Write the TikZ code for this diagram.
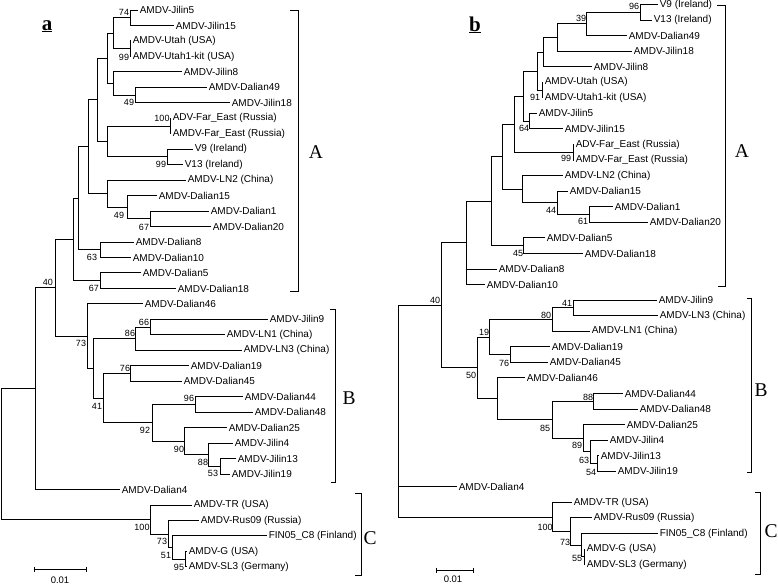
\documentclass[tikz,border=0pt]{standalone}
\usepackage{fontspec}
\setmainfont{Liberation Sans}
\newfontfamily\serifface{Liberation Serif}
\usetikzlibrary{calc}
\tikzset{
  edge/.style={line width=1pt, black},
  lab/.style={anchor=west, inner sep=1.6pt, font=\fontsize{10}{12}\selectfont},
  bsl/.style={inner sep=0pt, font=\fontsize{9}{10}\selectfont},
  clade/.style={inner sep=0pt, font=\serifface\fontsize{19.5}{20}\selectfont},
  ttl/.style={anchor=base, inner sep=0pt, font=\serifface\bfseries\fontsize{21}{22}\selectfont},
  brk/.style={line width=1pt},
  sclab/.style={inner sep=0pt, font=\fontsize{9.5}{11}\selectfont},
}
\newcommand\phynode[4]{%
  \path ($(#3)!0.5!(#4)$) coordinate (#1m);
  \path (#2,0) coordinate (#1x);
  \coordinate (#1) at (#1m -| #1x);
  \draw[edge] (#1) |- (#3);
  \draw[edge] (#1) |- (#4);}
\newcommand\tipa[4]{\coordinate (#1) at (#2,{10+(#3-1)*15.47}); \node[lab] (#1l) at (#1) {#4};}
\newcommand\tipb[4]{\coordinate (#1) at (#2,{4.5+(#3-1)*15.56}); \node[lab] (#1l) at (#1) {#4};}
\newcommand\bsv[4]{\node[bsl] (#1) at (#2,#3) {#4};}
\begin{document}
\begin{tikzpicture}[x=1pt,y=-1pt]
\useasboundingbox (0,0) rectangle (778,584);
% ================= Tree a =================
\node[ttl] (titlea) at (47,30) {\underline{a}};
\tipa{ta1}{138}{1}{AMDV-Jilin5}
\tipa{ta2}{174}{2}{AMDV-Jilin15}
\tipa{ta3}{131}{3}{AMDV-Utah (USA)}
\tipa{ta4}{131}{4}{AMDV-Utah1-kit (USA)}
\tipa{ta5}{182}{5}{AMDV-Jilin8}
\tipa{ta6}{207}{6}{AMDV-Dalian49}
\tipa{ta7}{230}{7}{AMDV-Jilin18}
\tipa{ta8}{171}{8}{ADV-Far\_East (Russia)}
\tipa{ta9}{171}{9}{AMDV-Far\_East (Russia)}
\tipa{ta10}{193}{10}{V9 (Ireland)}
\tipa{ta11}{183}{11}{V13 (Ireland)}
\tipa{ta12}{186}{12}{AMDV-LN2 (China)}
\tipa{ta13}{157}{13}{AMDV-Dalian15}
\tipa{ta14}{209}{14}{AMDV-Dalian1}
\tipa{ta15}{211}{15}{AMDV-Dalian20}
\tipa{ta16}{134}{16}{AMDV-Dalian8}
\tipa{ta17}{131}{17}{AMDV-Dalian10}
\tipa{ta18}{141}{18}{AMDV-Dalian5}
\tipa{ta19}{176}{19}{AMDV-Dalian18}
\tipa{ta20}{143}{20}{AMDV-Dalian46}
\tipa{ta21}{268}{21}{AMDV-Jilin9}
\tipa{ta22}{225}{22}{AMDV-LN1 (China)}
\tipa{ta23}{242}{23}{AMDV-LN3 (China)}
\tipa{ta24}{189}{24}{AMDV-Dalian19}
\tipa{ta25}{182}{25}{AMDV-Dalian45}
\tipa{ta26}{243}{26}{AMDV-Dalian44}
\tipa{ta27}{253}{27}{AMDV-Dalian48}
\tipa{ta28}{227}{28}{AMDV-Dalian25}
\tipa{ta29}{233}{29}{AMDV-Jilin4}
\tipa{ta30}{236}{30}{AMDV-Jilin13}
\tipa{ta31}{230}{31}{AMDV-Jilin19}
\tipa{ta32}{120}{32}{AMDV-Dalian4}
\tipa{ta33}{192}{33}{AMDV-TR (USA)}
\tipa{ta34}{199}{34}{AMDV-Rus09 (Russia)}
\tipa{ta35}{267}{35}{FIN05\_C8 (Finland)}
\tipa{ta36}{187}{36}{AMDV-G (USA)}
\tipa{ta37}{187}{37}{AMDV-SL3 (Germany)}
\phynode{a74}{130}{ta1}{ta2}
\phynode{a99u}{130}{ta3}{ta4}
\phynode{aN1}{113}{a74}{a99u}
\phynode{a49}{135}{ta6}{ta7}
\phynode{aN2}{113}{ta5}{a49}
\phynode{aN3}{107}{aN1}{aN2}
\phynode{a100f}{170}{ta8}{ta9}
\phynode{a99v}{167}{ta10}{ta11}
\phynode{aN4}{107}{a100f}{a99v}
\phynode{aN5}{97}{aN3}{aN4}
\phynode{a67d}{150}{ta14}{ta15}
\phynode{a49d}{127}{ta13}{a67d}
\phynode{aN6}{107}{ta12}{a49d}
\phynode{aN7}{88}{aN5}{aN6}
\phynode{a63}{100}{ta16}{ta17}
\phynode{aN8}{78}{aN7}{a63}
\phynode{a67}{100}{ta18}{ta19}
\phynode{aA}{73}{aN8}{a67}
\phynode{a66}{150}{ta21}{ta22}
\phynode{a86}{135}{a66}{ta23}
\phynode{a76}{130}{ta24}{ta25}
\phynode{a96}{195}{ta26}{ta27}
\phynode{a53}{220}{ta30}{ta31}
\phynode{a88}{208}{ta29}{a53}
\phynode{a90}{184}{ta28}{a88}
\phynode{a92}{152}{a96}{a90}
\phynode{a41}{103}{a76}{a92}
\phynode{aN9}{93}{a86}{a41}
\phynode{a73}{87}{ta20}{aN9}
\phynode{a40}{55}{aA}{a73}
\phynode{aN10}{35}{a40}{ta32}
\phynode{a95}{185}{ta36}{ta37}
\phynode{a51}{172}{ta35}{a95}
\phynode{a73c}{168}{ta34}{a51}
\phynode{a100c}{150}{ta33}{a73c}
\phynode{aroot}{1}{aN10}{a100c}
\bsv{ba1}{124}{12}{74}
\bsv{ba2}{124}{57}{99}
\bsv{ba3}{129}{102}{49}
\bsv{ba4}{162}{118}{100}
\bsv{ba5}{161}{164}{99}
\bsv{ba6}{119}{215}{49}
\bsv{ba7}{144}{227}{67}
\bsv{ba8}{92}{257}{63}
\bsv{ba9}{94}{288}{67}
\bsv{ba10}{48}{282}{40}
\bsv{ba11}{81}{343}{73}
\bsv{ba12}{130}{333}{86}
\bsv{ba13}{144}{322}{66}
\bsv{ba14}{125}{368}{76}
\bsv{ba15}{97}{406}{41}
\bsv{ba16}{189}{398}{96}
\bsv{ba17}{145}{430}{92}
\bsv{ba18}{179}{449}{90}
\bsv{ba19}{203}{462}{88}
\bsv{ba20}{213}{473}{53}
\bsv{ba21}{142}{527}{100}
\bsv{ba22}{162}{541}{73}
\bsv{ba23}{166}{555}{51}
\bsv{ba24}{179}{567}{95}
% brackets a
\coordinate (aAb1) at (290,10); \coordinate (aAb2) at (298,10);
\coordinate (aAb3) at (298,291); \coordinate (aAb4) at (290,291);
\draw[brk] (aAb1) -- (aAb2) -- (aAb3) -- (aAb4);
\coordinate (aBb1) at (330,309); \coordinate (aBb2) at (335,309);
\coordinate (aBb3) at (335,482); \coordinate (aBb4) at (331,482);
\draw[brk] (aBb1) -- (aBb2) -- (aBb3) -- (aBb4);
\coordinate (aCb1) at (355,493); \coordinate (aCb2) at (361,493);
\coordinate (aCb3) at (361,575); \coordinate (aCb4) at (355,575);
\draw[brk] (aCb1) -- (aCb2) -- (aCb3) -- (aCb4);
\node[clade] (aAl) at (316,152) {A};
\node[clade] (aBl) at (349,398) {B};
\node[clade] (aCl) at (370,538) {C};
% scale a
\coordinate (sa1) at (34,569); \coordinate (sa2) at (86,569);
\draw[edge] (sa1) -- (sa2);
\draw[edge] (sa1) ++(0,-2.5) -- ++(0,5);
\draw[edge] (sa2) ++(0,-2.5) -- ++(0,5);
\node[sclab] (sal) at (60,580) {0.01};
% ================= Tree b =================
\node[ttl] (titleb) at (475,31) {\underline{b}};
\tipb{tb1}{658}{1}{V9 (Ireland)}
\tipb{tb2}{652}{2}{V13 (Ireland)}
\tipb{tb3}{627}{3}{AMDV-Dalian49}
\tipb{tb4}{632}{4}{AMDV-Jilin18}
\tipb{tb5}{592}{5}{AMDV-Jilin8}
\tipb{tb6}{543}{6}{AMDV-Utah (USA)}
\tipb{tb7}{543}{7}{AMDV-Utah1-kit (USA)}
\tipb{tb8}{537}{8}{AMDV-Jilin5}
\tipb{tb9}{563}{9}{AMDV-Jilin15}
\tipb{tb10}{574}{10}{ADV-Far\_East (Russia)}
\tipb{tb11}{574}{11}{AMDV-Far\_East (Russia)}
\tipb{tb12}{563}{12}{AMDV-LN2 (China)}
\tipb{tb13}{568}{13}{AMDV-Dalian15}
\tipb{tb14}{613}{14}{AMDV-Dalian1}
\tipb{tb15}{648}{15}{AMDV-Dalian20}
\tipb{tb16}{545}{16}{AMDV-Dalian5}
\tipb{tb17}{583}{17}{AMDV-Dalian18}
\tipb{tb18}{497}{18}{AMDV-Dalian8}
\tipb{tb19}{485}{19}{AMDV-Dalian10}
\tipb{tb20}{657}{20}{AMDV-Jilin9}
\tipb{tb21}{658}{21}{AMDV-LN3 (China)}
\tipb{tb22}{590}{22}{AMDV-LN1 (China)}
\tipb{tb23}{550}{23}{AMDV-Dalian19}
\tipb{tb24}{548}{24}{AMDV-Dalian45}
\tipb{tb25}{525}{25}{AMDV-Dalian46}
\tipb{tb26}{623}{26}{AMDV-Dalian44}
\tipb{tb27}{638}{27}{AMDV-Dalian48}
\tipb{tb28}{625}{28}{AMDV-Dalian25}
\tipb{tb29}{608}{29}{AMDV-Jilin4}
\tipb{tb30}{599}{30}{AMDV-Jilin13}
\tipb{tb31}{616}{31}{AMDV-Jilin19}
\tipb{tb32}{457}{32}{AMDV-Dalian4}
\tipb{tb33}{572}{33}{AMDV-TR (USA)}
\tipb{tb34}{592}{34}{AMDV-Rus09 (Russia)}
\tipb{tb35}{658}{35}{FIN05\_C8 (Finland)}
\tipb{tb36}{585}{36}{AMDV-G (USA)}
\tipb{tb37}{585}{37}{AMDV-SL3 (Germany)}
\phynode{b96}{640}{tb1}{tb2}
\phynode{b39}{586}{b96}{tb3}
\phynode{bN1}{557}{b39}{tb4}
\phynode{bN2}{543}{bN1}{tb5}
\phynode{b91}{542}{tb6}{tb7}
\phynode{bN3}{537}{bN2}{b91}
\phynode{b64}{529}{tb8}{tb9}
\phynode{bN4}{523}{bN3}{b64}
\phynode{b99}{573}{tb10}{tb11}
\phynode{bN5}{514}{bN4}{b99}
\phynode{b61}{589}{tb14}{tb15}
\phynode{b44}{557}{tb13}{b61}
\phynode{bN6}{522}{tb12}{b44}
\phynode{bN7}{502}{bN5}{bN6}
\phynode{b45}{523}{tb16}{tb17}
\phynode{bN8}{491}{bN7}{b45}
\phynode{bN9}{466}{bN8}{tb19}
\draw[edge] (bN9) |- (tb18);
\phynode{b41}{573}{tb20}{tb21}
\phynode{b80}{552}{b41}{tb22}
\phynode{b76}{510}{tb23}{tb24}
\phynode{b19}{489}{b80}{b76}
\phynode{b88}{593}{tb26}{tb27}
\phynode{b54}{597}{tb30}{tb31}
\phynode{b63}{590}{tb29}{b54}
\phynode{b89}{583}{tb28}{b63}
\phynode{b85}{552}{b88}{b89}
\phynode{bN10}{497}{tb25}{b85}
\phynode{b50}{477}{b19}{bN10}
\phynode{b40}{441}{bN9}{b50}
\phynode{bN11}{398}{b40}{tb32}
\phynode{bGS}{584}{tb36}{tb37}
\phynode{b55}{581}{tb35}{bGS}
\phynode{b73}{570}{tb34}{b55}
\phynode{b100}{552}{tb33}{b73}
\phynode{broot}{398}{bN11}{b100}
\bsv{bb1}{634}{6}{96}
\bsv{bb2}{581}{18}{39}
\bsv{bb3}{535}{97}{91}
\bsv{bb4}{524}{128}{64}
\bsv{bb5}{566}{158}{99}
\bsv{bb6}{551}{210}{44}
\bsv{bb7}{583}{221}{61}
\bsv{bb8}{518}{253}{45}
\bsv{bb9}{435}{300}{40}
\bsv{bb10}{567}{303}{41}
\bsv{bb11}{546}{315}{80}
\bsv{bb12}{484}{332}{19}
\bsv{bb13}{504}{363}{76}
\bsv{bb14}{471}{375}{50}
\bsv{bb15}{588}{397}{88}
\bsv{bb16}{545}{428}{85}
\bsv{bb17}{577}{445}{89}
\bsv{bb18}{584}{460}{63}
\bsv{bb19}{591}{472}{54}
\bsv{bb20}{545}{527}{100}
\bsv{bb21}{565}{542}{73}
\bsv{bb22}{577}{558}{55}
% brackets b
\coordinate (bAb1) at (717,5); \coordinate (bAb2) at (725,5);
\coordinate (bAb3) at (725,286); \coordinate (bAb4) at (718,286);
\draw[brk] (bAb1) -- (bAb2) -- (bAb3) -- (bAb4);
\coordinate (bBb1) at (747,298); \coordinate (bBb2) at (751,298);
\coordinate (bBb3) at (751,472); \coordinate (bBb4) at (747,472);
\draw[brk] (bBb1) -- (bBb2) -- (bBb3) -- (bBb4);
\coordinate (bCb1) at (755,492); \coordinate (bCb2) at (760,492);
\coordinate (bCb3) at (760,574); \coordinate (bCb4) at (755,574);
\draw[brk] (bCb1) -- (bCb2) -- (bCb3) -- (bCb4);
\node[clade] (bAl) at (742,151) {A};
\node[clade] (bBl) at (761,390) {B};
\node[clade] (bCl) at (771,531) {C};
% scale b
\coordinate (sb1) at (436,570); \coordinate (sb2) at (473,570);
\draw[edge] (sb1) -- (sb2);
\draw[edge] (sb1) ++(0,-2.5) -- ++(0,5);
\draw[edge] (sb2) ++(0,-2.5) -- ++(0,5);
\node[sclab] (sbl) at (453,579) {0.01};
\end{tikzpicture}
\end{document}
